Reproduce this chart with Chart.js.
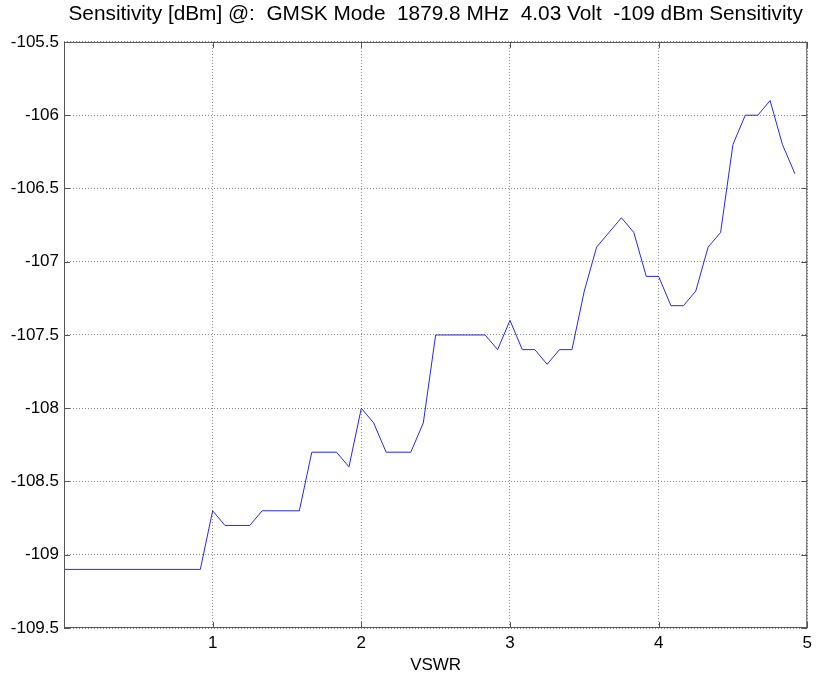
<!DOCTYPE html>
<html>
<head>
<meta charset="utf-8">
<script src="https://cdn.jsdelivr.net/npm/chart.js@4"></script>
<style>
  body { margin: 0; background: #fff; }
</style>
</head>
<body>
<canvas id="sensChart" width="817" height="679"></canvas>
<script>
// VSWR points where the curve changes slope
const vswr = [0, 0.917, 1.0, 1.083, 1.25, 1.333, 1.583, 1.667, 1.833, 1.917,
  2.0, 2.083, 2.167, 2.333, 2.417, 2.5, 2.833, 2.917, 3.0, 3.083,
  3.167, 3.25, 3.333, 3.417, 3.5, 3.583, 3.75, 3.833, 3.917, 4.0,
  4.083, 4.167, 4.25, 4.333, 4.417, 4.5, 4.583, 4.667, 4.75, 4.833, 4.917];
const sensitivity = [-109.1, -109.1, -108.7, -108.8, -108.8, -108.7, -108.7, -108.3, -108.3, -108.4,
  -108.0, -108.1, -108.3, -108.3, -108.1, -107.5, -107.5, -107.6, -107.4, -107.6,
  -107.6, -107.7, -107.6, -107.6, -107.2, -106.9, -106.7, -106.8, -107.1, -107.1,
  -107.3, -107.3, -107.2, -106.9, -106.8, -106.2, -106.0, -106.0, -105.9, -106.2, -106.4];
const xTicks = [1, 2, 3, 4, 5];
const yTicks = [-105.5, -106, -106.5, -107, -107.5, -108, -108.5, -109, -109.5];

const font = { family: "'Liberation Sans', Arial, sans-serif", size: 17 };

// box around the plot with matlab style inward ticks
const frame = {
  id: 'frame',
  afterDatasetsDraw(chart) {
    const { ctx, chartArea: a, scales: { x, y } } = chart;
    ctx.save();
    ctx.strokeStyle = '#555';
    ctx.lineWidth = 1;
    ctx.strokeRect(a.left + 0.5, a.top + 0.5, a.width - 1, a.height - 1);
    ctx.beginPath();
    xTicks.forEach(v => {
      const px = Math.round(x.getPixelForValue(v)) + 0.5;
      ctx.moveTo(px, a.bottom); ctx.lineTo(px, a.bottom - 6);
      ctx.moveTo(px, a.top); ctx.lineTo(px, a.top + 6);
    });
    yTicks.forEach(v => {
      const py = Math.round(y.getPixelForValue(v)) + 0.5;
      ctx.moveTo(a.left, py); ctx.lineTo(a.left + 6, py);
      ctx.moveTo(a.right, py); ctx.lineTo(a.right - 6, py);
    });
    ctx.stroke();
    ctx.restore();
  }
};

new Chart(document.getElementById('sensChart'), {
  type: 'scatter',
  data: {
    datasets: [{
      data: vswr.map((v, i) => ({ x: v, y: sensitivity[i] })),
      showLine: true,
      borderColor: '#2a2ad6',
      borderWidth: 1,
      pointRadius: 0,
      tension: 0,
    }],
  },
  options: {
    responsive: false,
    animation: false,
    layout: { padding: { right: 8 } },
    scales: {
      x: {
        type: 'linear',
        min: 0,
        max: 5,
        afterFit: s => { s.height = 51; },
        afterBuildTicks: s => { s.ticks = [0].concat(xTicks).map(v => ({ value: v })); },
        grid: { color: '#8a8a8a', drawTicks: false },
        border: { display: false, dash: [1, 2] },
        ticks: {
          padding: 5,
          color: '#000',
          font: font,
          callback: v => (xTicks.includes(v) ? String(v) : ''),
        },
        title: { display: true, text: 'VSWR', color: '#000', font: font, padding: { top: 3, bottom: 3 } },
      },
      y: {
        min: -109.5,
        max: -105.5,
        afterFit: s => { s.width = 64; },
        afterBuildTicks: s => { s.ticks = yTicks.map(v => ({ value: v })); },
        grid: { color: '#8a8a8a', drawTicks: false },
        border: { display: false, dash: [1, 2] },
        ticks: {
          padding: 5,
          color: '#000',
          font: font,
          callback: v => String(Number(v.toFixed(1))),
        },
      },
    },
    plugins: {
      legend: { display: false },
      tooltip: { enabled: false },
      title: {
        display: true,
        fullSize: false,
        text: 'Sensitivity [dBm] @:  GMSK Mode  1879.8 MHz  4.03 Volt  -109 dBm Sensitivity',
        color: '#000',
        font: { family: font.family, size: 20.8, weight: 'normal' },
        padding: { top: 2, bottom: 15 },
      },
    },
  },
  plugins: [frame],
});
</script>
</body>
</html>
